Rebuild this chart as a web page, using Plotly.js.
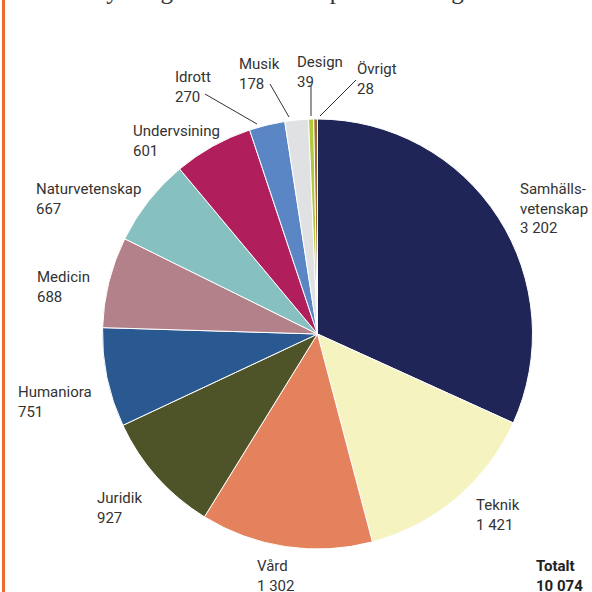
<!DOCTYPE html>
<html>
<head>
<meta charset="utf-8">
<script src="https://cdn.plot.ly/plotly-3.0.1.min.js"></script>
<style>html,body{margin:0;padding:0;background:#fff;}#chart{width:592px;height:592px;}</style>
</head>
<body>
<div id="chart"></div>
<script>
const categories = ["Samhällsvetenskap","Teknik","Vård","Juridik","Humaniora","Medicin","Naturvetenskap","Undervsining","Idrott","Musik","Design","Övrigt"];
const labelTexts = ["Samhälls-<br>vetenskap<br>3 202","Teknik<br>1 421","Vård<br>1 302","Juridik<br>927","Humaniora<br>751","Medicin<br>688","Naturvetenskap<br>667","Undervsining<br>601","Idrott<br>270","Musik<br>178","Design<br>39","Övrigt<br>28"];
const values = [3202,1421,1302,927,751,688,667,601,270,178,39,28];
const colors = ["#1f2556","#f5f4c0","#e5825e","#4e5328","#2a5890","#b38189","#86c0c1","#b01f5c","#5b86c5","#e0e1e3","#b4c83c","#a0702e"];
const totalLabel = "<b>Totalt<br>10 074</b>";
const titleText = "Antal nyantagna doktorander per forskningsområde";

const W = 592, H = 592;
// label anchor positions in pixels (left, top)
const labelPos = [[518,178],[474,494],[255,555],[95,487],[16,381],[35,266],[34,178],[131,120],[173,66],[237,53],[295,51],[355,58]];
const px = x => x / W;
const py = y => 1 - y / H;

const labelFont = {family: 'Roboto, Liberation Sans, sans-serif', size: 15, color: '#333333'};
const annotations = categories.map((c, i) => ({
  text: labelTexts[i], xref: 'paper', yref: 'paper',
  x: px(labelPos[i][0]), y: py(labelPos[i][1]), xanchor: 'left', yanchor: 'top',
  align: 'left', showarrow: false, font: labelFont
}));
annotations.push({
  text: totalLabel, xref: 'paper', yref: 'paper', x: px(534), y: py(555),
  xanchor: 'left', yanchor: 'top', align: 'left', showarrow: false,
  font: {family: 'Roboto, Liberation Sans, sans-serif', size: 15, color: '#222222'}
});
annotations.push({
  text: titleText, xref: 'paper', yref: 'paper', x: 0.49, y: 1, xanchor: 'center', yanchor: 'middle',
  yshift: 10, showarrow: false,
  font: {family: 'Liberation Serif, DejaVu Serif, serif', size: 25, color: '#333333'}
});

const leaders = [[[205,94],[257,124]],[[270,84],[289,117]],[[311,86],[311,116]],[[356,80],[320,116]]];
const shapes = leaders.map(l => ({
  type: 'line', xref: 'paper', yref: 'paper',
  x0: px(l[0][0]), y0: py(l[0][1]), x1: px(l[1][0]), y1: py(l[1][1]),
  line: {color: '#333333', width: 1}
}));
shapes.push({type: 'line', xref: 'paper', yref: 'paper', x0: px(3.5), x1: px(3.5), y0: 0, y1: 1,
  line: {color: '#ee6b2f', width: 3}});

const trace = {
  type: 'pie', labels: categories, values: values, sort: false, direction: 'clockwise', rotation: 0,
  marker: {colors: colors, line: {color: '#ffffff', width: 1}},
  textinfo: 'none', hoverinfo: 'label+value', showlegend: false,
  domain: {x: [102.5 / W, 532.5 / W], y: [(H - 334 - 215) / H, (H - 334 + 215) / H]}
};

Plotly.newPlot('chart', [trace], {
  width: W, height: H, margin: {l: 0, r: 0, t: 0, b: 0},
  paper_bgcolor: '#ffffff', plot_bgcolor: '#ffffff',
  annotations: annotations, shapes: shapes, showlegend: false
}, {displayModeBar: false, staticPlot: true});
</script>
</body>
</html>
